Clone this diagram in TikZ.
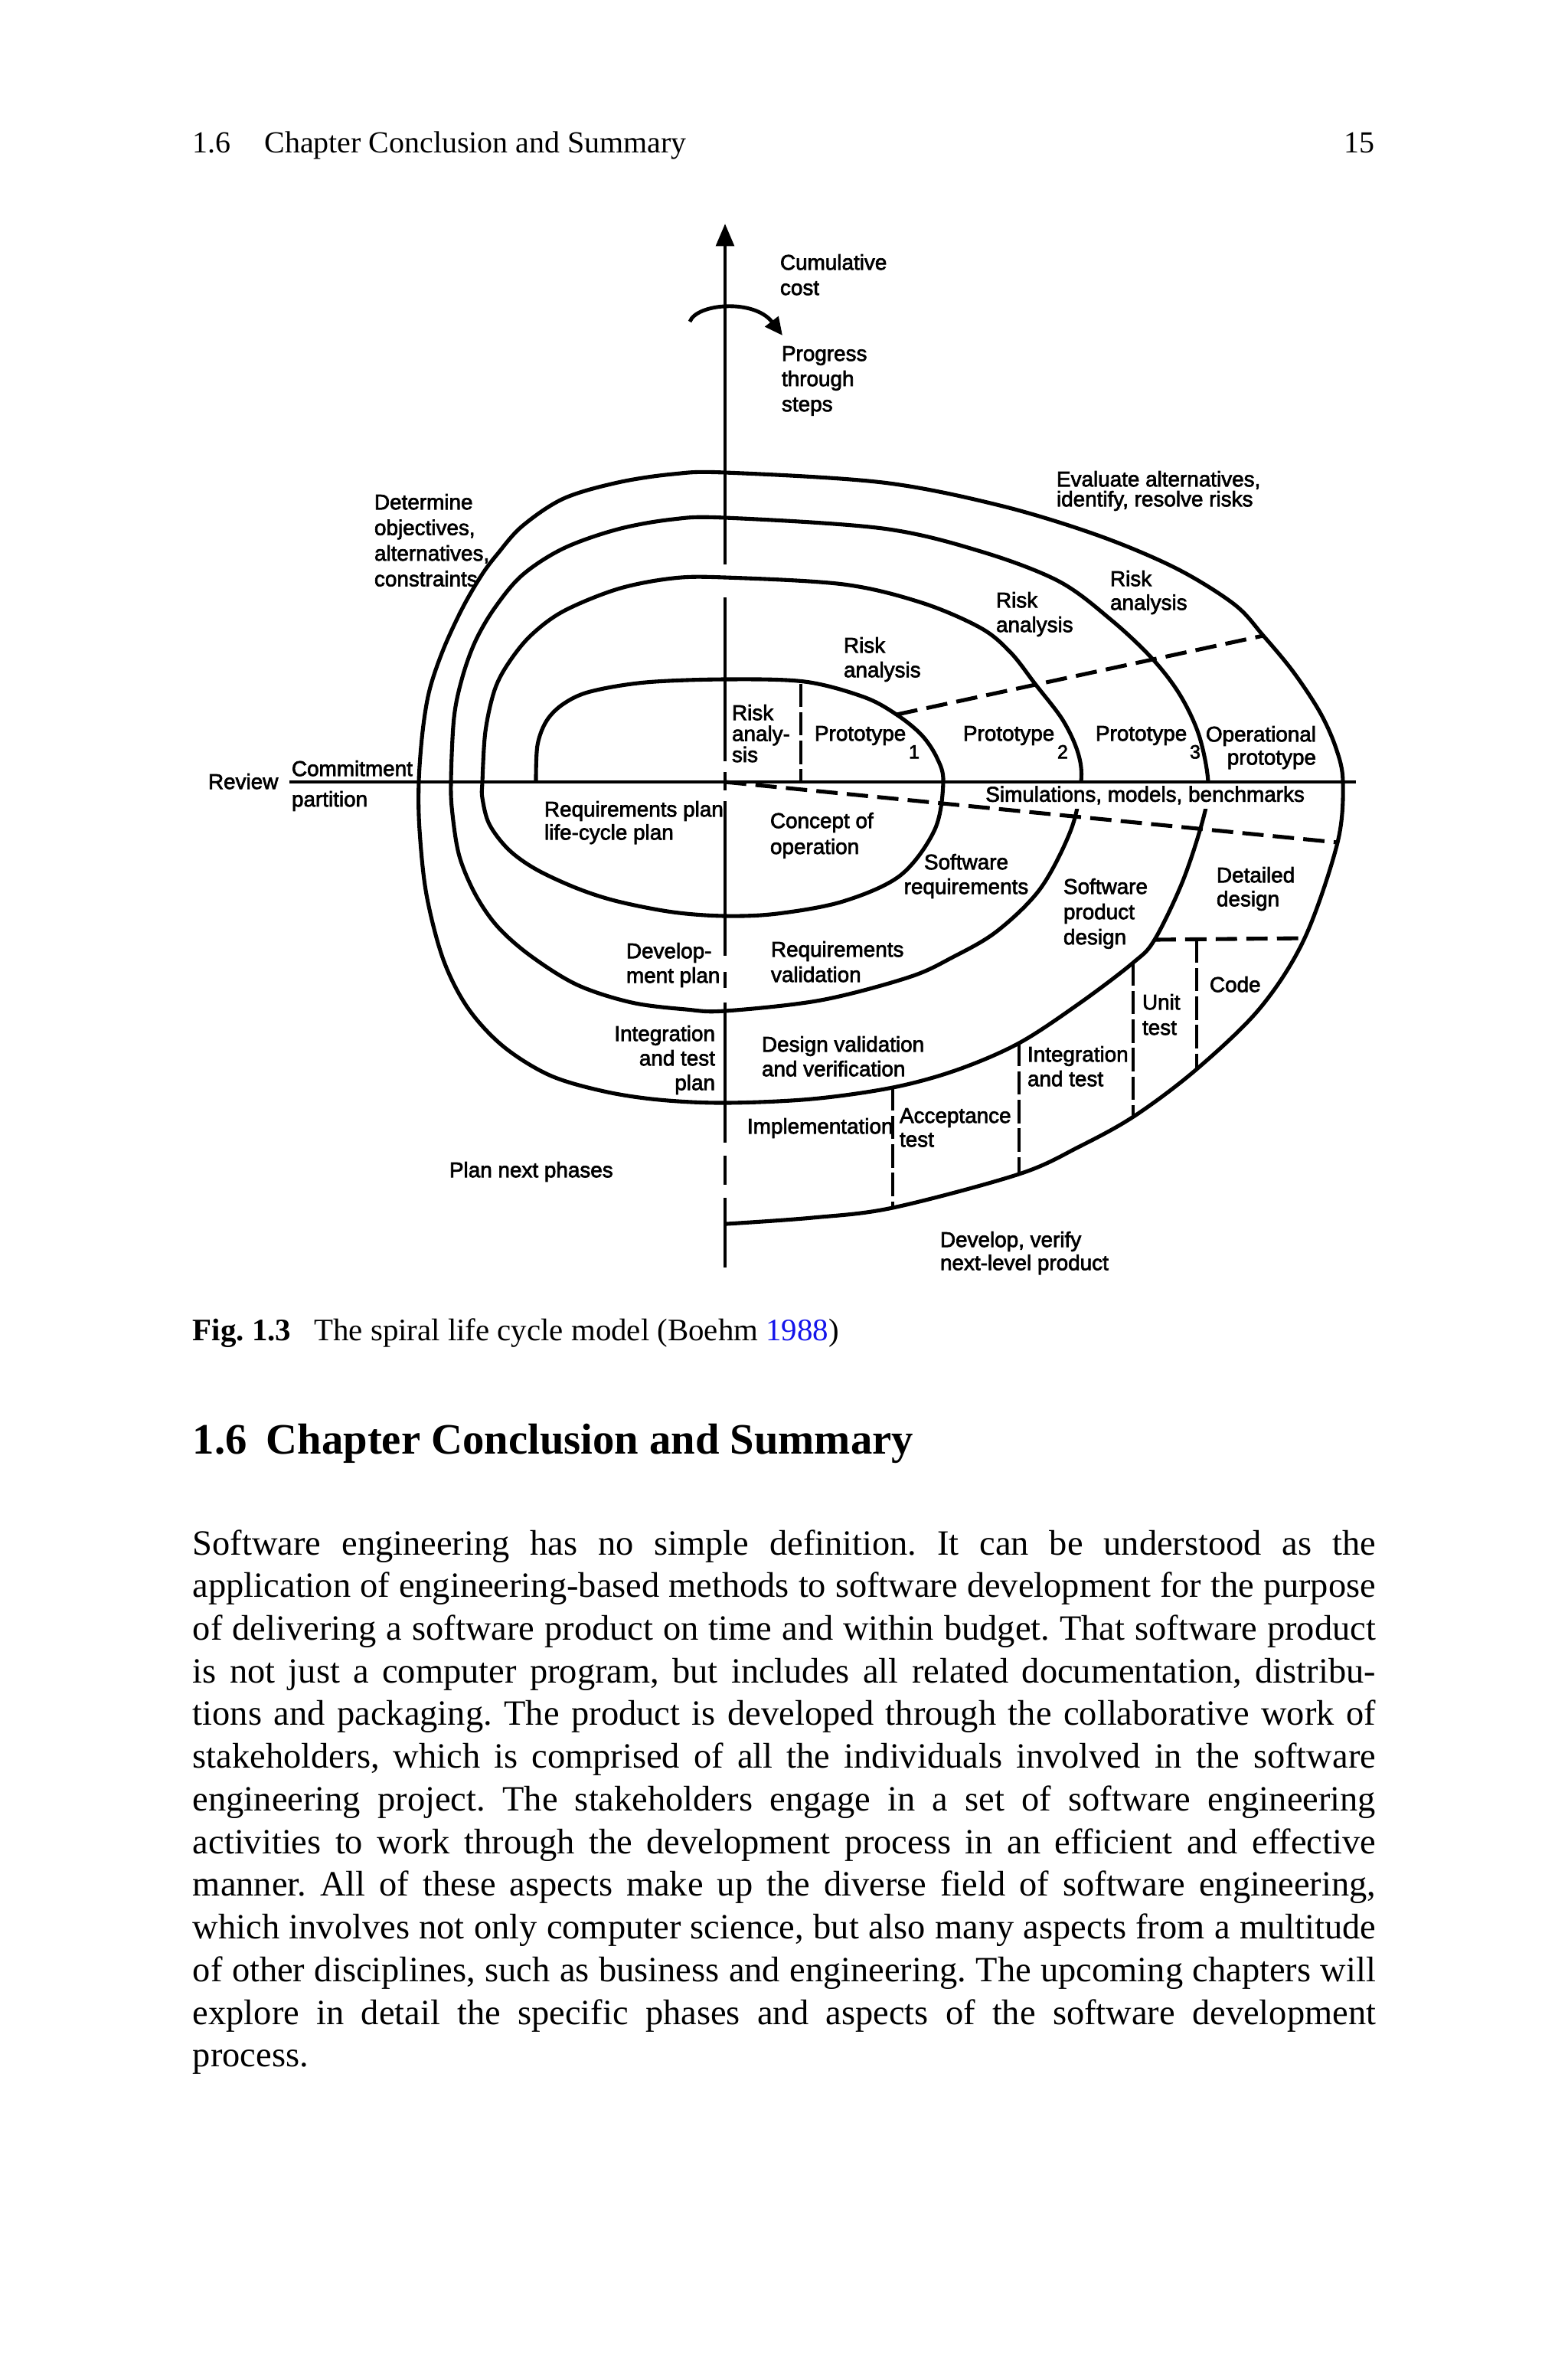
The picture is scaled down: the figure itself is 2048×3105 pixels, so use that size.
\documentclass[tikz,border=0pt]{standalone}
\usepackage{fontspec}
\setmainfont{Liberation Serif}
\newfontfamily\diagfont[FakeBold=2.4]{Liberation Sans}
\usetikzlibrary{arrows.meta}
\definecolor{linkblue}{RGB}{20,20,235}
\newlength\bodyw
\setlength\bodyw{332.7pt}
\newcommand\jline[1]{\hbox to\bodyw{#1}}
\newcommand\subdig[1]{\hspace{0.8pt}\raisebox{-5pt}{\fontsize{5.4}{5.4}\selectfont #1}}
\begin{document}
\frenchspacing
\begin{tikzpicture}[x=0.07568mm,y=-0.07568mm,
  lbl/.style={font=\diagfont\fontsize{6.0}{6.9}\selectfont, inner sep=0pt, outer sep=0pt, align=left, anchor=north west},
  lsk/.style={font=\diagfont\fontsize{6.0}{#1}\selectfont},
  sp/.style={line width=1.1pt, line join=round},
  ax/.style={line width=1.05pt},
  dl/.style={line width=1.1pt, dash pattern=on 6pt off 2.6pt},
  dv/.style={line width=1.0pt, dash pattern=on 6.5pt off 1.5pt},
]
\fill[white] (0,0) rectangle (2048,3105);
\useasboundingbox (0,0) rectangle (2048,3105);

% running head
\node[anchor=base west, inner sep=0] (head) at (251,199) {\fontsize{8.6}{10}\selectfont 1.6\hspace{9.4pt}Chapter Conclusion and Summary};
\node[anchor=base east, inner sep=0] (pagenum) at (1796,199) {\fontsize{8.6}{10}\selectfont 15};

% spiral
\draw[sp] plot[smooth, tension=0.55] coordinates {
 (700,1021) (702,973) (714,941) (736,919) (771,903) (843,891) (947,887) (1051,890) (1128,910)
 (1171,933) (1204,960) (1224,990) (1232,1021) (1221,1083) (1176,1143) (1101,1177)
 (1015,1193) (947,1196) (879,1191) (807,1177) (754,1160) (700,1135) (664,1109) (639,1076) (630,1042) (630,1021)
 (634,955) (646,901) (664,866) (693,830) (736,798) (807,769) (879,755) (947,754) (1102,763)
 (1204,787) (1281,820) (1320,852) (1352,893) (1388,940) (1408,983) (1412,1021)
 (1399,1083) (1359,1160) (1302,1216) (1244,1250) (1187,1276) (1072,1306) (947,1320)
 (896,1318) (825,1309) (754,1286) (693,1248) (650,1210) (621,1168) (600,1118) (591,1063) (589,1021)
 (593,937) (604,884) (621,837) (646,794) (682,751) (736,716) (807,691) (879,678) (947,676)
 (1153,690) (1281,720) (1383,759) (1452,810) (1505,860) (1541,907) (1566,960) (1578,1021)
 (1572,1067) (1545,1150) (1508,1227) (1480,1257) (1410,1310) (1331,1362) (1250,1397)
 (1166,1420) (1060,1435) (947,1440)
 (861,1436) (789,1425) (718,1404) (657,1366) (611,1316) (579,1253) (557,1168) (548,1084) (547,1021)
 (552,955) (561,901) (579,848) (604,794) (629,751) (650,723) (682,687) (736,651) (807,630) (879,619) (947,617)
 (1153,630) (1306,660) (1434,699) (1536,742) (1612,789) (1650,830) (1689,877) (1724,930)
 (1745,977) (1754,1021) (1747,1100) (1704,1225) (1646,1316) (1563,1396) (1482,1457)
 (1410,1497) (1331,1533) (1166,1577) (1061,1590) (949,1598)};

% label that interrupts the spiral
\node[lbl, fill=white, inner ysep=1.2pt, inner xsep=0.5pt, anchor=north west] (sim) at (1285,1021) {Simulations, models, benchmarks};

% axes
\draw[ax,-{Triangle[length=6.3pt,width=5pt]}] (947,737) -- (947,292);
\draw[ax] (947,780)--(947,994) (947,1008)--(947,1032) (947,1046)--(947,1248)
          (947,1269)--(947,1290) (947,1309)--(947,1492) (947,1509)--(947,1547)
          (947,1564)--(947,1655);
\draw[ax] (378,1021) -- (1771,1021);

% progress arrow
\draw[ax,-{Triangle[length=5pt,width=4.6pt]}] (901,420) .. controls (910,396) and (985,390) .. (1022,438);

% dashed partition lines
\draw[dl] (1171,933) -- (1650,830);
\draw[dl] (947,1021) -- (1747,1100);
\draw[dl] (1508,1227) -- (1704,1225);
\draw[dv] (1046,893) -- (1046,1021);
\draw[dv] (1563,1227) -- (1563,1396);
\draw[dv] (1480,1257) -- (1480,1457);
\draw[dv] (1331,1362) -- (1331,1533);
\draw[dv] (1166,1420) -- (1166,1577);

% labels
\node[lbl, lsk=7.1pt] (cum) at (1019,332) {Cumulative\\cost};
\node[lbl, lsk=7.1pt] (prog) at (1021,452) {Progress\\through\\steps};
\node[lbl, lsk=7.2pt] (det) at (489,645) {Determine\\objectives,\\alternatives,\\constraints};
\node[lbl, lsk=5.6pt] (eval) at (1380,615) {Evaluate alternatives,\\identify, resolve risks};
\node[lbl, lsk=6.7pt] (ra4) at (1450,745) {Risk\\analysis};
\node[lbl] (ra3) at (1301,773) {Risk\\analysis};
\node[lbl] (ra2) at (1102,832) {Risk\\analysis};
\node[lbl, lsk=5.9pt] (ra1) at (956,920) {Risk\\analy-\\sis};
\node[lbl] (pt1) at (1064,948) {Prototype\subdig{1}};
\node[lbl] (pt2) at (1258,948) {Prototype\subdig{2}};
\node[lbl] (pt3) at (1431,948) {Prototype\subdig{3}};
\node[lbl, lsk=6.5pt, align=right, anchor=north east] (opp) at (1719,948) {Operational\\prototype};
\node[lbl] (rev) at (272,1010) {Review};
\node[lbl, lsk=8.6pt] (com) at (381,993) {Commitment\\partition};
\node[lbl, lsk=6.5pt] (rqp) at (711,1046) {Requirements plan\\life-cycle plan};
\node[lbl, lsk=7.3pt] (coo) at (1006,1061) {Concept of\\operation};
\node[lbl, align=center, anchor=north] (swr) at (1262,1115) {Software\\requirements};
\node[lbl, lsk=7.1pt] (spd) at (1389,1147) {Software\\product\\design};
\node[lbl, lsk=6.7pt] (ded) at (1589,1132) {Detailed\\design};
\node[lbl] (dvp) at (818,1231) {Develop-\\ment plan};
\node[lbl, lsk=7.1pt] (rqv) at (1007,1229) {Requirements\\validation};
\node[lbl] (code) at (1580,1275) {Code};
\node[lbl, lsk=7.1pt] (unit) at (1492,1298) {Unit\\test};
\node[lbl, align=right, anchor=north east] (itp) at (934,1339) {Integration\\and test\\plan};
\node[lbl] (dvv) at (995,1353) {Design validation\\and verification};
\node[lbl] (itt) at (1342,1366) {Integration\\and test};
\node[lbl] (impl) at (976,1460) {Implementation};
\node[lbl, lsk=6.7pt] (acc) at (1175,1447) {Acceptance\\test};
\node[lbl] (pnp) at (587,1517) {Plan next phases};
\node[lbl, lsk=6.5pt] (dvf) at (1228,1608) {Develop, verify\\next-level product};

% caption
\node[anchor=base west, inner sep=0] (cap) at (251,1750) {\fontsize{8.8}{10.5}\selectfont\textbf{Fig.~1.3}\hspace{6.5pt}The spiral life cycle model (Boehm \textcolor{linkblue}{1988})};

% section heading
\node[anchor=base west, inner sep=0] (sec) at (251,1898) {\fontsize{12.2}{14}\selectfont\bfseries 1.6\hspace{5.4pt}Chapter Conclusion and Summary};

% body text
\node[anchor=base west, inner sep=0] (body) at (251,2030) {\parbox[t]{\bodyw}{\fontsize{10}{12}\selectfont\frenchspacing
\jline{Software engineering has no simple definition. It can be understood as the}
\jline{application of engineering-based methods to software development for the purpose}
\jline{of delivering a software product on time and within budget. That software product}
\jline{is not just a computer program, but includes all related documentation, distribu-}
\jline{tions and packaging. The product is developed through the collaborative work of}
\jline{stakeholders, which is comprised of all the individuals involved in the software}
\jline{engineering project. The stakeholders engage in a set of software engineering}
\jline{activities to work through the development process in an efficient and effective}
\jline{manner. All of these aspects make up the diverse field of software engineering,}
\jline{which involves not only computer science, but also many aspects from a multitude}
\jline{of other disciplines, such as business and engineering. The upcoming chapters will}
\jline{explore in detail the specific phases and aspects of the software development}
\hbox{process.}}};
\end{tikzpicture}
\end{document}
